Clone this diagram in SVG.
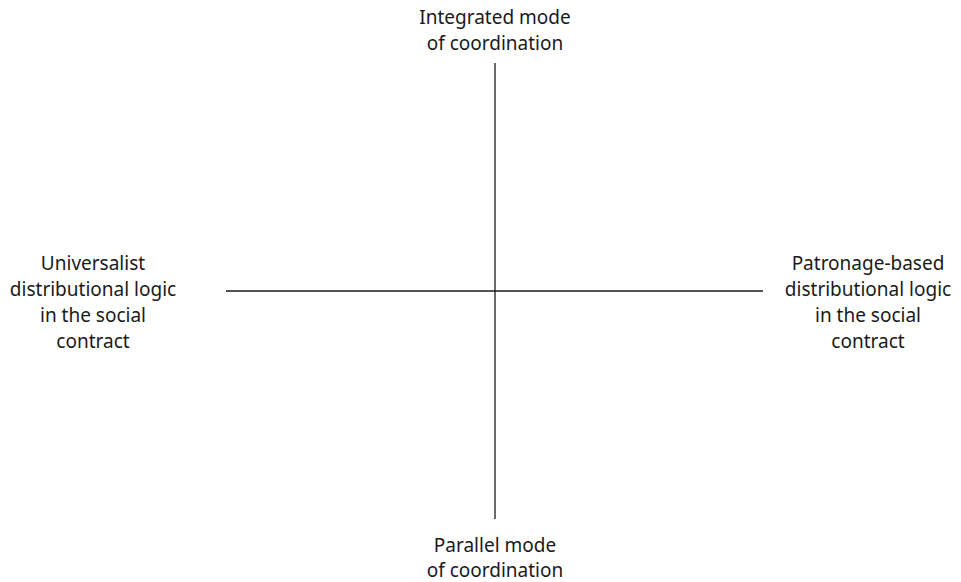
<svg xmlns="http://www.w3.org/2000/svg" width="961" height="582" viewBox="0 0 961 582">
<style>
text{font-family:"Noto Sans","Liberation Sans",sans-serif;font-size:19px;fill:#1a1a1a;text-anchor:middle}
.ax{stroke:#1a1a1a;stroke-width:1.3;fill:none}
</style>
<rect width="961" height="582" fill="#fff"/>
<g id="connectors">
<line class="ax" x1="495" y1="63" x2="495" y2="519"/>
<line class="ax" x1="226" y1="291" x2="763" y2="291"/>
</g>
<g id="top"><text x="495" y="24">Integrated mode</text><text x="495" y="50">of coordination</text></g>
<g id="bottom"><text x="495" y="552">Parallel mode</text><text x="495" y="577">of coordination</text></g>
<g id="left"><text x="93" y="270">Universalist</text><text x="93" y="296">distributional logic</text><text x="93" y="322">in the social</text><text x="93" y="348">contract</text></g>
<g id="right"><text x="868" y="270">Patronage-based</text><text x="868" y="296">distributional logic</text><text x="868" y="322">in the social</text><text x="868" y="348">contract</text></g>
</svg>
